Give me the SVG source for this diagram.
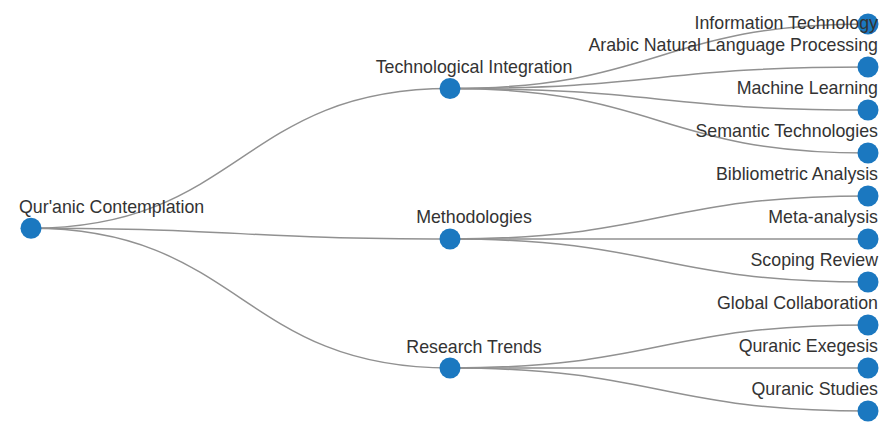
<svg xmlns="http://www.w3.org/2000/svg" width="884" height="422" viewBox="0 0 884 422">
  <style>
    .link { fill: none; stroke: #919191; stroke-width: 1.5; }
    .node circle { fill: #1b78c0; }
    .node text { font-family: "Liberation Sans", Arial, sans-serif; font-size: 17.8px; fill: #333; }
    .root text { text-anchor: start; }
    .mid text { text-anchor: middle; }
    .leaf text { text-anchor: end; }
  </style>
  <rect width="884" height="422" fill="#fff"/>

  <!-- horizontal tree links: M source C midX,sy midX,ty target -->
  <g id="links">
    <path class="link" d="M31,228.25 C240.5,228.25 240.5,88.5 450,88.5"/>
    <path class="link" d="M31,228.25 C240.5,228.25 240.5,239 450,239"/>
    <path class="link" d="M31,228.25 C240.5,228.25 240.5,368 450,368"/>
    <path class="link" d="M450,88.5 C659,88.5 659,24 868,24"/>
    <path class="link" d="M450,88.5 C659,88.5 659,67 868,67"/>
    <path class="link" d="M450,88.5 C659,88.5 659,110 868,110"/>
    <path class="link" d="M450,88.5 C659,88.5 659,153 868,153"/>
    <path class="link" d="M450,239 C659,239 659,196 868,196"/>
    <path class="link" d="M450,239 C659,239 659,239 868,239"/>
    <path class="link" d="M450,239 C659,239 659,282 868,282"/>
    <path class="link" d="M450,368 C659,368 659,325 868,325"/>
    <path class="link" d="M450,368 C659,368 659,368 868,368"/>
    <path class="link" d="M450,368 C659,368 659,411 868,411"/>
  </g>

  <g id="node-quranic-contemplation" class="node root">
    <circle cx="31" cy="228.25" r="10.5"/>
    <text x="19" y="213">Qur'anic Contemplation</text>
  </g>

  <g id="node-technological-integration" class="node mid">
    <circle cx="450" cy="88.5" r="10.5"/>
    <text x="474" y="73">Technological Integration</text>
  </g>
  <g id="node-methodologies" class="node mid">
    <circle cx="450" cy="239" r="10.5"/>
    <text x="474" y="223">Methodologies</text>
  </g>
  <g id="node-research-trends" class="node mid">
    <circle cx="450" cy="368" r="10.5"/>
    <text x="474" y="353">Research Trends</text>
  </g>

  <g id="node-information-technology" class="node leaf">
    <circle cx="868" cy="24" r="10.5"/>
    <text x="878" y="29">Information Technology</text>
  </g>
  <g id="node-arabic-nlp" class="node leaf">
    <circle cx="868" cy="67" r="10.5"/>
    <text x="878" y="51">Arabic Natural Language Processing</text>
  </g>
  <g id="node-machine-learning" class="node leaf">
    <circle cx="868" cy="110" r="10.5"/>
    <text x="878" y="94">Machine Learning</text>
  </g>
  <g id="node-semantic-technologies" class="node leaf">
    <circle cx="868" cy="153" r="10.5"/>
    <text x="878" y="137">Semantic Technologies</text>
  </g>
  <g id="node-bibliometric-analysis" class="node leaf">
    <circle cx="868" cy="196" r="10.5"/>
    <text x="878" y="180">Bibliometric Analysis</text>
  </g>
  <g id="node-meta-analysis" class="node leaf">
    <circle cx="868" cy="239" r="10.5"/>
    <text x="878" y="223">Meta-analysis</text>
  </g>
  <g id="node-scoping-review" class="node leaf">
    <circle cx="868" cy="282" r="10.5"/>
    <text x="878" y="266">Scoping Review</text>
  </g>
  <g id="node-global-collaboration" class="node leaf">
    <circle cx="868" cy="325" r="10.5"/>
    <text x="878" y="309">Global Collaboration</text>
  </g>
  <g id="node-quranic-exegesis" class="node leaf">
    <circle cx="868" cy="368" r="10.5"/>
    <text x="878" y="352">Quranic Exegesis</text>
  </g>
  <g id="node-quranic-studies" class="node leaf">
    <circle cx="868" cy="411" r="10.5"/>
    <text x="878" y="395">Quranic Studies</text>
  </g>
</svg>
